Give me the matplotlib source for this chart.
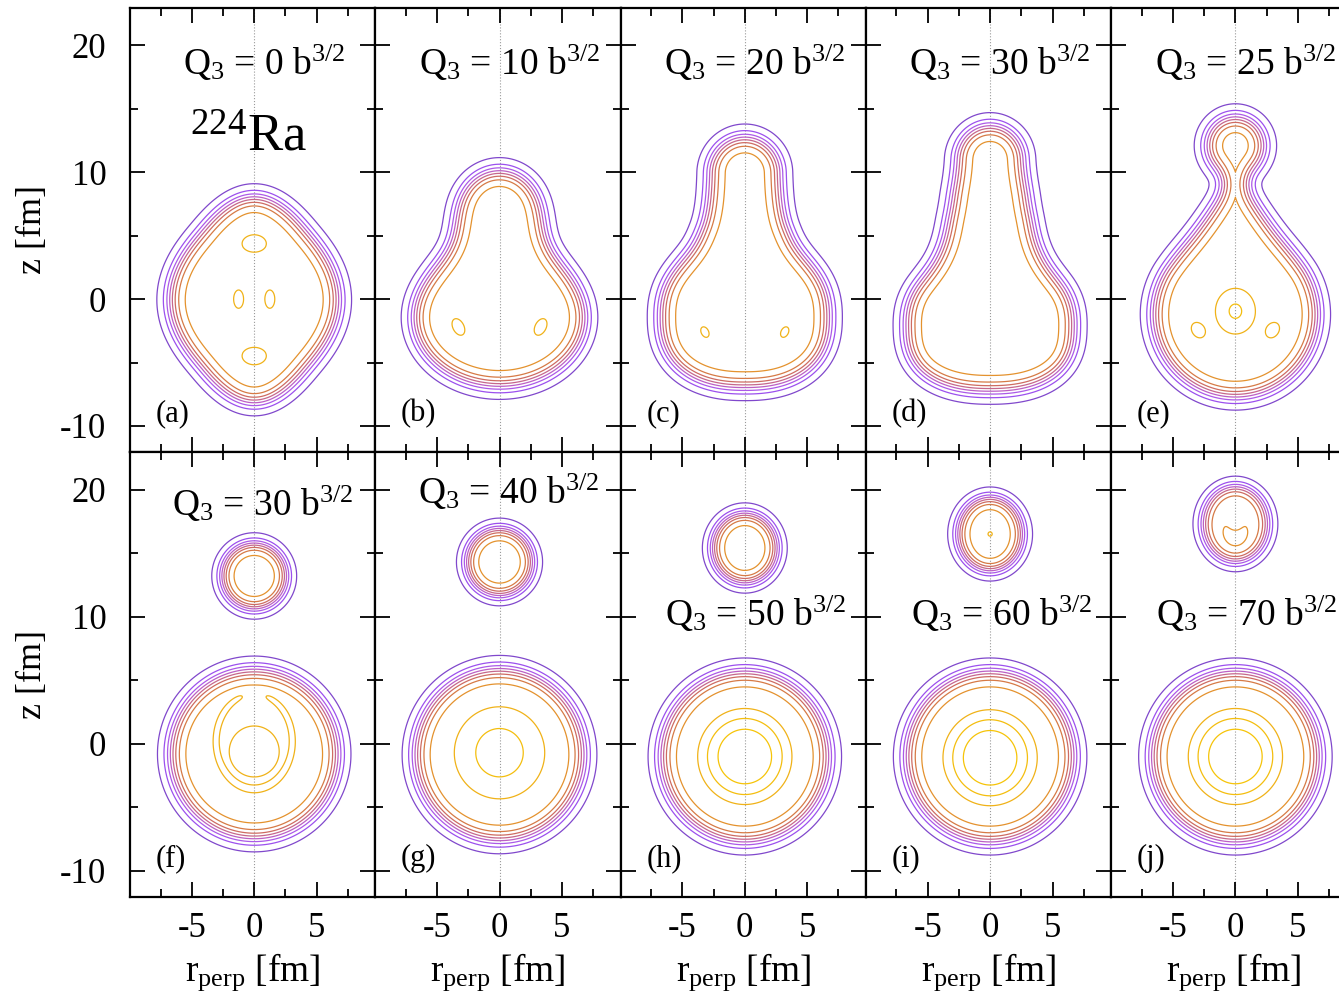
import numpy as np
import matplotlib
matplotlib.use("Agg")
import matplotlib.pyplot as plt
from matplotlib.ticker import MultipleLocator
from contourpy import contour_generator

plt.rcParams['font.family'] = ['Liberation Serif', 'DejaVu Serif']
plt.rcParams['mathtext.fontset'] = 'custom'
plt.rcParams['mathtext.rm'] = 'Liberation Serif'
plt.rcParams['mathtext.it'] = 'Liberation Serif:italic'
plt.rcParams['axes.unicode_minus'] = False

# octupole moment of every panel [b^3/2] and the panel tags
q3_values = [0, 10, 20, 30, 25, 30, 40, 50, 60, 70]
panel_tags = ['(a)', '(b)', '(c)', '(d)', '(e)', '(f)', '(g)', '(h)', '(i)', '(j)']

# density contour levels [fm^-3]
levels = [0.01, 0.03, 0.05, 0.07, 0.09, 0.11, 0.13, 0.15, 0.165, 0.175, 0.185]
level_colors = ['#8048cc', '#9c50ee', '#ac5ae8', '#bc60c4', '#c6688c', '#ce6c62',
                '#d67a46', '#e4922e', '#f0b218', '#f4be0e', '#f6c408']

# outer surface (rho = 0.01), in fm
#   ('ell', z centre, half width, half height, exponent)   superellipse
#   ('dia', z centre, half width, half height, exponent)   rounded diamond
#   ('cap', z low, z high, radius)                          capsule
#   ('ucap', z low, r low, z high, r high)                  tapered capsule
# body: (pieces, smoothing, diffuseness, central density)
bodies_a = [([('dia', -0.05, 7.8, 9.15, 2.6)], 1.0, 0.42, 0.16)]
bodies_b = [([('ell', -1.5, 7.85, 6.4, 2.0), ('ell', 7.1, 4.0, 4.0, 2.0)], 1.8, 0.42, 0.16)]
bodies_c = [([('ell', -1.5, 7.8, 6.5, 2.3), ('cap', 6.0, 10.0, 3.8)], 1.5, 0.42, 0.16)]
bodies_d = [([('ell', -2.3, 7.7, 5.9, 2.4), ('ucap', -0.5, 6.0, 6.8, 3.6),
              ('cap', 6.8, 11.1, 3.6)], 0.8, 0.42, 0.16)]
bodies_e = [([('ell', -1.2, 7.3, 7.15, 2.0), ('ucap', -1.2, 7.25, 7.3, 2.45),
              ('ell', 12.1, 3.3, 3.3, 2.0)], 0.5, 0.42, 0.16)]
bodies_f = [([('ell', 13.2, 3.4, 3.4, 2.0)], 1.0, 0.33, 0.16),
            ([('ell', -0.8, 7.75, 7.7, 2.0)], 1.0, 0.42, 0.16)]
bodies_g = [([('ell', 14.3, 3.45, 3.45, 2.0)], 1.0, 0.33, 0.16),
            ([('ell', -0.85, 7.8, 7.8, 2.0)], 1.0, 0.42, 0.16)]
bodies_h = [([('ell', 15.4, 3.4, 3.55, 2.0)], 1.0, 0.33, 0.16),
            ([('ell', -1.0, 7.75, 7.75, 2.0)], 1.0, 0.42, 0.16)]
bodies_i = [([('ell', 16.5, 3.4, 3.7, 2.0)], 1.0, 0.33, 0.16),
            ([('ell', -1.0, 7.75, 7.75, 2.0)], 1.0, 0.42, 0.16)]
bodies_j = [([('ell', 17.3, 3.4, 3.75, 2.0)], 1.0, 0.33, 0.146),
            ([('ell', -1.0, 7.75, 7.75, 2.0)], 1.0, 0.42, 0.16)]

# density bumps inside: (x, z, sx, sz, tilt deg, amplitude, power), x > 0 ones mirrored
bumps_a = [(0, 4.4, 1.46, 1.02, 0, 0.008, 2), (0, -4.5, 1.46, 1.02, 0, 0.008, 2),
           (1.25, 0.0, 0.58, 1.05, 0, 0.008, 2)]
bumps_b = [(3.3, -2.2, 0.66, 1.05, 28, 0.008, 2)]
bumps_c = [(3.2, -2.6, 0.52, 0.78, 28, 0.007, 2)]
bumps_d = []
bumps_e = [(0, -0.95, 1.45, 1.63, 0, 0.0169, 2), (3.0, -2.45, 0.73, 0.95, 35, 0.008, 2)]
bumps_f = [(0, -0.6, 2.045, 2.045, 0, 0.012, 6)]
bumps_g = [(0, -0.7, 2.97, 2.97, 0, 0.0226, 2)]
bumps_h = [(0, -1.0, 3.28, 3.28, 0, 0.030, 4)]
bumps_i = [(0, -1.1, 3.28, 3.28, 0, 0.030, 4), (0, 16.5, 0.3, 0.3, 0, 0.007, 2)]
bumps_j = [(0, -1.0, 3.28, 3.28, 0, 0.030, 4), (0, 16.3, 1.45, 1.6, 0, 0.010, 2),
           (0, 17.55, 0.55, 0.8, 0, -0.012, 2)]

# ring shaped ridge: (z centre, half width, half height, width, amplitude, gap at top deg)
ridges_f = [(0.2, 3.05, 3.75, 0.36, 0.008, 14)]

panels = [(bodies_a, bumps_a, []), (bodies_b, bumps_b, []), (bodies_c, bumps_c, []),
          (bodies_d, bumps_d, []), (bodies_e, bumps_e, []), (bodies_f, bumps_f, ridges_f),
          (bodies_g, bumps_g, []), (bodies_h, bumps_h, []), (bodies_i, bumps_i, []),
          (bodies_j, bumps_j, [])]

xs = np.linspace(-10.5, 10.5, 421)
zs = np.linspace(-13, 24, 741)
X, Z = np.meshgrid(xs, zs)


def normalise(f):
    gz, gx = np.gradient(f, zs, xs)
    return f / np.maximum(np.hypot(gx, gz), 1e-6)


def piece_field(piece):
    kind = piece[0]
    if kind == 'cap':
        _, z1, z2, r = piece
        return np.hypot(X, Z - np.clip(Z, z1, z2)) - r
    if kind == 'ucap':
        _, z1, r1, z2, r2 = piece
        h = z2 - z1
        px, pz = np.abs(X), Z - z1
        b = (r1 - r2) / h
        a = np.sqrt(1 - b * b)
        k = -b * px + a * pz
        return np.where(k < 0, np.hypot(px, pz) - r1,
                        np.where(k > a * h, np.hypot(px, pz - h) - r2, a * px + b * pz - r1))
    _, zc, hx, hz, p = piece
    if kind == 'dia':
        u = X / hx + (Z - zc) / hz
        v = X / hx - (Z - zc) / hz
        f = (np.abs(u) ** p + np.abs(v) ** p) ** (1 / p) / 2 ** (1 / p) - 1
    else:
        f = (np.abs(X / hx) ** p + np.abs((Z - zc) / hz) ** p) ** (1 / p) - 1
    return normalise(f)


def surface_distance(F):
    # signed distance to the zero line of F, computed near the surface
    d = F.copy()
    near = np.abs(F) < 4.5
    px, pz = X[near], Z[near]
    best = np.full(px.shape, np.inf)
    for ln in contour_generator(xs, zs, F).lines(0.0):
        pts = np.vstack([ln[::3], ln[-1:]])
        for (ax_, az_), (bx_, bz_) in zip(pts[:-1], pts[1:]):
            ex, ez = bx_ - ax_, bz_ - az_
            l2 = ex * ex + ez * ez
            if l2 == 0:
                continue
            t = np.clip(((px - ax_) * ex + (pz - az_) * ez) / l2, 0, 1)
            best = np.minimum(best, np.hypot(px - ax_ - t * ex, pz - az_ - t * ez))
    d[near] = np.where(F[near] < 0, -best, best)
    return d


def density(bodies, bumps, ridges):
    rho = np.zeros_like(X)
    for pieces, k, a, rho0 in bodies:
        D = np.array([piece_field(p) for p in pieces])
        m = D.min(axis=0)
        F = m - k * np.log(np.exp(-(D - m) / k).sum(axis=0))
        d = surface_distance(F)
        off = a * np.log(rho0 / levels[0] - 1)
        rho += rho0 / (1 + np.exp(np.clip((d + off) / a, -60, 60)))
    for x0, z0, sx, sz, tilt, amp, pw in bumps:
        for sgn in ([1, -1] if x0 != 0 else [1]):
            t = np.radians(tilt * sgn)
            dx, dz = X - sgn * x0, Z - z0
            u = dx * np.cos(t) - dz * np.sin(t)
            v = dx * np.sin(t) + dz * np.cos(t)
            r2 = (u / sx) ** 2 + (v / sz) ** 2
            rho += amp * np.exp(-r2 ** (pw / 2))
    for z0, rx, rz, w, amp, gap in ridges:
        r = np.hypot(X / rx, (Z - z0) / rz)
        ang = np.degrees(np.arctan2(np.abs(X) / rx, (Z - z0) / rz))
        rho += amp * np.exp(-((r - 1) * rx / w) ** 2) * (1 - np.exp(-(ang / gap) ** 2))
    return rho


fig = plt.figure(figsize=(13.39, 9.99), dpi=100)
W, H = 1339.0, 999.0
col_w = 245.3
row_top = [8, 452]
row_h = [444, 445]

q3_pos = [(0.8, 18.6)] * 5 + [(0.7, 18.9), (0.7, 19.8), (0.9, 10.2), (0.9, 10.2), (0.9, 10.2)]

for i, (bodies, bumps, ridges) in enumerate(panels):
    row, col = divmod(i, 5)
    left = 130 + col * col_w
    ax = fig.add_axes([left / W, (H - row_top[row] - row_h[row]) / H, col_w / W, row_h[row] / H])
    rho = density(bodies, bumps, ridges)
    ax.axvline(0, color='#9a9a9a', ls=':', lw=0.8, zorder=1)
    ax.contour(X, Z, rho, levels=levels, colors=level_colors, linewidths=0.9, zorder=2)
    ax.set_xlim(-9.95, 9.7)
    ax.set_ylim(-12.05, 22.95)
    ax.xaxis.set_major_locator(MultipleLocator(5))
    ax.xaxis.set_minor_locator(MultipleLocator(2.5))
    ax.yaxis.set_major_locator(MultipleLocator(10))
    ax.yaxis.set_minor_locator(MultipleLocator(5))
    ax.tick_params(which='both', direction='in', top=True, right=True, width=1.3,
                   labelsize=25, colors='black')
    ax.tick_params(which='major', length=11)
    ax.tick_params(which='minor', length=6)
    ax.tick_params(axis='y', pad=17)
    ax.tick_params(axis='x', pad=11)
    for s in ax.spines.values():
        s.set_linewidth(1.6)
    if col != 0:
        ax.set_yticklabels([])
    else:
        ax.set_ylabel('z [fm]', fontsize=26)
        ax.yaxis.set_label_coords(-0.33, 0.5)
    if row != 1:
        ax.set_xticklabels([])
    else:
        ax.set_xlabel(r'r$_{\rm perp}$ [fm]', fontsize=27, labelpad=4)
    qx, qz = q3_pos[i]
    ax.text(qx, qz, 'Q$_3$ = %d b$^{3/2}$' % q3_values[i], fontsize=27,
            ha='center', va='center', zorder=3)
    ax.text(-7.9, -9.0, panel_tags[i], fontsize=22, ha='left', va='center', zorder=3)
    if i == 0:
        ax.text(-0.5, 12.7, '$^{224}$Ra', fontsize=38, ha='center', va='center', zorder=3)

fig.savefig('out.png', dpi=100)
